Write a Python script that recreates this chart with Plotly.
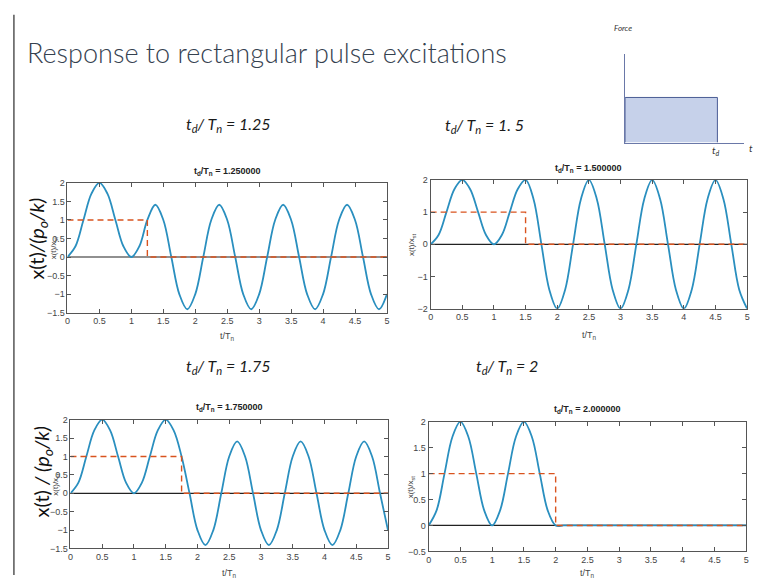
import plotly.graph_objects as go

W, H = 767, 580

# ---------------- data ----------------
t = [0, .125, .25, .375, .5, .625, .75, .875, 1, 1.125, 1.25, 1.375, 1.5, 1.625,
     1.75, 1.875, 2, 2.125, 2.25, 2.375, 2.5, 2.625, 2.75, 2.875, 3, 3.125, 3.25,
     3.375, 3.5, 3.625, 3.75, 3.875, 4, 4.125, 4.25, 4.375, 4.5, 4.625, 4.75, 4.875, 5]

x_125 = [0, .29, 1, 1.71, 2, 1.71, 1, .29, 0, .29, 1,
         1.41, 1, 0, -1, -1.41, -1, 0, 1, 1.41, 1, 0, -1, -1.41, -1, 0, 1, 1.41, 1, 0,
         -1, -1.41, -1, 0, 1, 1.41, 1, 0, -1, -1.41, -1]
x_150 = [0, .29, 1, 1.71, 2, 1.71, 1, .29, 0, .29, 1, 1.71, 2,
         1.41, 0, -1.41, -2, -1.41, 0, 1.41, 2, 1.41, 0, -1.41, -2, -1.41, 0, 1.41, 2,
         1.41, 0, -1.41, -2, -1.41, 0, 1.41, 2, 1.41, 0, -1.41, -2]
x_175 = [0, .29, 1, 1.71, 2, 1.71, 1, .29, 0, .29, 1, 1.71, 2, 1.71, 1,
         0, -1, -1.41, -1, 0, 1, 1.41, 1, 0, -1, -1.41, -1, 0, 1, 1.41, 1, 0,
         -1, -1.41, -1, 0, 1, 1.41, 1, 0, -1]
x_200 = [0, .29, 1, 1.71, 2, 1.71, 1, .29, 0, .29, 1, 1.71, 2, 1.71, 1, .29, 0,
         0, 0, 0, 0, 0, 0, 0, 0, 0, 0, 0, 0, 0, 0, 0, 0, 0, 0, 0, 0, 0, 0, 0, 0]

td_ratios = [1.25, 1.5, 1.75, 2.0]
big_labels = ["1.25", "1. 5", "1.75", "2"]
sub_titles = ["1.250000", "1.500000", "1.750000", "2.000000"]
y_ranges = [[-1.5, 2], [-2, 2], [-1.5, 2], [-0.5, 2]]
y_dticks = [0.5, 1, 0.5, 0.5]
x_ticks = [0, 0.5, 1, 1.5, 2, 2.5, 3, 3.5, 4, 4.5, 5]

force_level = 1.0
t_end = 5
inset_t = [0, 0, 1, 1]
inset_f = [0, 1, 1, 0]

responses = [x_125, x_150, x_175, x_200]

# ---------------- layout helpers ----------------
def fx(px):
    return px / W

def fy(py):
    return 1 - py / H

def ann(text, px, py, size, family, color="#222", angle=0, xanchor="center"):
    return dict(text=text, x=fx(px), y=fy(py), xref="paper", yref="paper",
                xanchor=xanchor, yanchor="middle", textangle=angle, showarrow=False,
                font=dict(family=family, size=size, color=color))

# plot boxes in pixels: (left, right, top, bottom)
boxes = [(65, 387, 181, 313), (431, 750, 178, 309), (68, 388, 422, 553), (429, 749, 424, 556)]

BLUE = "#2a8fbf"
RED = "#d9531e"
NARROW = "Liberation Sans Narrow, Arial Narrow, Liberation Sans, sans-serif"
SLIDE = "Lato, Noto Sans, sans-serif"
TICKFONT = dict(family=NARROW, size=9, color="#444")

fig = go.Figure()
layout = dict(width=W, height=H, margin=dict(l=0, r=0, t=0, b=0),
              paper_bgcolor="white", plot_bgcolor="white", showlegend=False)
annotations = []

for i in range(4):
    n = i + 1
    xa = "x" if n == 1 else f"x{n}"
    ya = "y" if n == 1 else f"y{n}"
    L, R, T, B = boxes[i]
    td = td_ratios[i]
    fig.add_trace(go.Scatter(x=[0, t_end], y=[0, 0], mode="lines", xaxis=xa, yaxis=ya,
                             line=dict(color="#222", width=1.2), hoverinfo="skip"))
    fig.add_trace(go.Scatter(x=t, y=responses[i], mode="lines", xaxis=xa, yaxis=ya,
                             line=dict(color=BLUE, width=1.8, shape="spline", smoothing=1)))
    fig.add_trace(go.Scatter(x=[0, td, td, t_end], y=[force_level, force_level, 0, 0],
                             mode="lines", xaxis=xa, yaxis=ya,
                             line=dict(color=RED, width=1.4, dash="6px,4px")))
    axcommon = dict(showline=True, linecolor="#555", linewidth=1, mirror="ticks",
                    ticks="inside", ticklen=4, tickcolor="#555", tickfont=TICKFONT,
                    showgrid=False, zeroline=False)
    layout["xaxis" if n == 1 else f"xaxis{n}"] = dict(
        domain=[fx(L), fx(R)], anchor=ya, range=[0, 5], tickvals=x_ticks, **axcommon)
    layout["yaxis" if n == 1 else f"yaxis{n}"] = dict(
        domain=[fy(B), fy(T)], anchor=xa, range=y_ranges[i], dtick=y_dticks[i],
        tick0=y_ranges[i][0], **axcommon)
    annotations.append(ann(f"<b>t<sub>d</sub>/T<sub>n</sub> = {sub_titles[i]}</b>",
                           (L + R) / 2, T - 12, 9, NARROW, "#222"))
    annotations.append(ann("x(t)/x<sub>st</sub>", L - 18 if i % 2 == 1 else L - 14,
                           (T + B) / 2, 8, NARROW, "#444", angle=-90))

# x labels
for (px, py) in [(226, 337), (591, 336), (228, 578), (589, 578)]:
    annotations.append(ann("t/T<sub>n</sub>", px, py, 9, NARROW, "#444"))

# big slide labels
for (px, py), lab in zip([(182, 122), (443, 123), (182, 368), (475, 368)], big_labels):
    annotations.append(ann(f"<i>t<sub>d</sub>/ T<sub>n</sub> = {lab}</i>", px, py, 16, SLIDE, "#1a1a1a",
                           xanchor="left"))

# big y labels on left column
annotations.append(ann("x(t)<i>/(p<sub>o</sub>/k)</i>", 35, 238, 20, SLIDE, "#111", angle=-90))
annotations.append(ann("x(t) <i>/ (p<sub>o</sub>/k)</i>", 40, 475, 20, SLIDE, "#111", angle=-90))

# slide title
t_ann = ann("Response to rectangular pulse excitations", 22, 48, 27, SLIDE, "#35414f", xanchor="left")
t_ann["font"]["weight"] = 300
annotations.append(t_ann)

# force inset
fig.add_trace(go.Scatter(x=inset_t, y=inset_f, mode="lines", fill="toself", xaxis="x5", yaxis="y5",
                         fillcolor="#c6d1ea", line=dict(color="#4a5c94", width=1)))
layout["xaxis5"] = dict(domain=[fx(627), fx(747)], anchor="y5", range=[0, 1.29], showline=True,
                        linecolor="#6a78a8", linewidth=1, showticklabels=False, ticks="",
                        showgrid=False, zeroline=False)
layout["yaxis5"] = dict(domain=[fy(140), fy(50)], anchor="x5", range=[0, 1.96], showline=True,
                        linecolor="#6a78a8", linewidth=1, showticklabels=False, ticks="",
                        showgrid=False, zeroline=False)
annotations.append(ann("<i>Force</i>", 625, 23, 8, SLIDE, "#333"))
annotations.append(ann("<i>t<sub>d</sub></i>", 719, 148, 10, SLIDE, "#333"))
annotations.append(ann("<i>t</i>", 754, 146, 10, SLIDE, "#333"))

layout["annotations"] = annotations
layout["shapes"] = [dict(type="line", xref="paper", yref="paper", x0=fx(11), x1=fx(11),
                         y0=fy(10), y1=0, line=dict(color="#555", width=1.5))]

fig.update_layout(**layout)
fig.write_html("out.html", config={"displayModeBar": False},
               post_script="document.body.style.margin='0';document.body.style.overflow='hidden';")
